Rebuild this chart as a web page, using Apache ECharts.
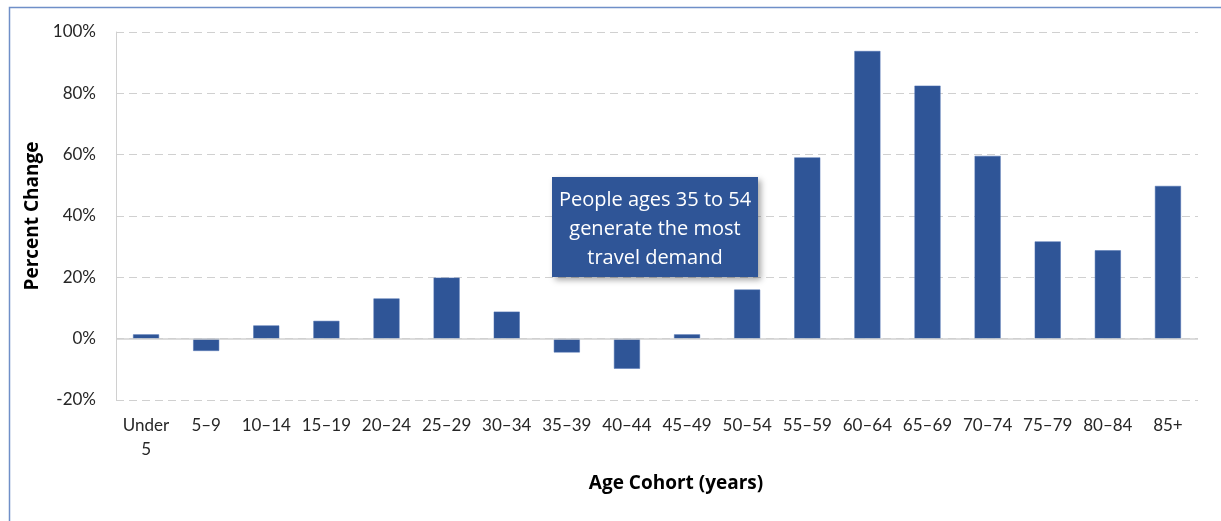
<!DOCTYPE html>
<html>
<head>
<meta charset="utf-8">
<script src="https://cdn.jsdelivr.net/npm/echarts@6/dist/echarts.min.js"></script>
<style>
html,body{margin:0;padding:0;background:#fff;}
#chart{width:1221px;height:521px;}
</style>
</head>
<body>
<div id="chart"></div>
<script>
const categories = ['Under\n5','5–9','10–14','15–19','20–24','25–29','30–34','35–39','40–44','45–49','50–54','55–59','60–64','65–69','70–74','75–79','80–84','85+'];
const percentChange = [1.4, -4.0, 4.3, 5.8, 13.1, 19.9, 8.8, -4.5, -9.8, 1.4, 16.0, 59.1, 93.8, 82.5, 59.6, 31.7, 28.8, 49.8];
const yTicks = {min: -20, max: 100, interval: 20};
const annotationText = 'People ages 35 to 54\ngenerate the most\ntravel demand';
const xTitle = 'Age Cohort (years)';
const yTitle = 'Percent Change';

const FONT = 'Lato';
const TFONT = 'Open Sans';
const chart = echarts.init(document.getElementById('chart'), null, {renderer: 'canvas'});
chart.setOption({
  animation: false,
  backgroundColor: '#ffffff',
  grid: {left: 116, right: 23, top: 32, bottom: 121, containLabel: false},
  xAxis: {
    type: 'category',
    data: categories,
    axisLine: {show: false, onZero: false},
    axisTick: {show: false},
    axisLabel: {color: '#262626', fontSize: 17, fontFamily: FONT, margin: 14, lineHeight: 24, interval: 0},
    name: xTitle,
    nameLocation: 'middle',
    nameGap: 74,
    nameTextStyle: {color: '#000', fontSize: 19, fontWeight: 'bold', fontFamily: TFONT, padding: [0, 0, 0, 38]}
  },
  yAxis: {
    type: 'value',
    min: yTicks.min, max: yTicks.max, interval: yTicks.interval,
    axisLine: {show: true, lineStyle: {color: '#d0d0d0', width: 1}},
    axisTick: {show: false},
    axisLabel: {color: '#262626', fontSize: 17, fontFamily: FONT, margin: 20, formatter: '{value}%'},
    splitLine: {show: true, lineStyle: {color: '#d0d0d0', type: [8, 5], width: 1}},
    name: yTitle,
    nameLocation: 'middle',
    nameGap: 72,
    nameTextStyle: {color: '#000', fontSize: 19, fontWeight: 'bold', fontFamily: TFONT}
  },
  series: [{
    type: 'bar',
    data: percentChange,
    barWidth: 26,
    itemStyle: {color: '#2F5597', borderColor: '#4a6fb0', borderWidth: 0.5},
    markLine: {
      silent: true,
      symbol: 'none',
      label: {show: false},
      lineStyle: {color: '#d0d0d0', type: 'solid', width: 1.5},
      data: [{yAxis: 0}]
    }
  }],
  graphic: [
    {
      type: 'rect',
      left: 7, top: 5, z: 100,
      shape: {width: 1240, height: 540},
      style: {fill: 'none', stroke: '#6f8fc8', lineWidth: 1.5},
      silent: true
    },
    {
      type: 'group',
      left: 552, top: 177, z: 100,
      children: [
        {
          type: 'rect', z: 100,
          shape: {width: 206, height: 100},
          style: {fill: '#2F5597', shadowBlur: 6, shadowOffsetX: 3, shadowOffsetY: 3, shadowColor: 'rgba(0,0,0,0.35)'}
        },
        {
          type: 'text', z: 101,
          x: 103, y: 52,
          style: {text: annotationText, fill: '#ffffff', fontSize: 20, fontFamily: TFONT, lineHeight: 29, align: 'center', verticalAlign: 'middle'}
        }
      ]
    }
  ]
});
</script>
</body>
</html>
